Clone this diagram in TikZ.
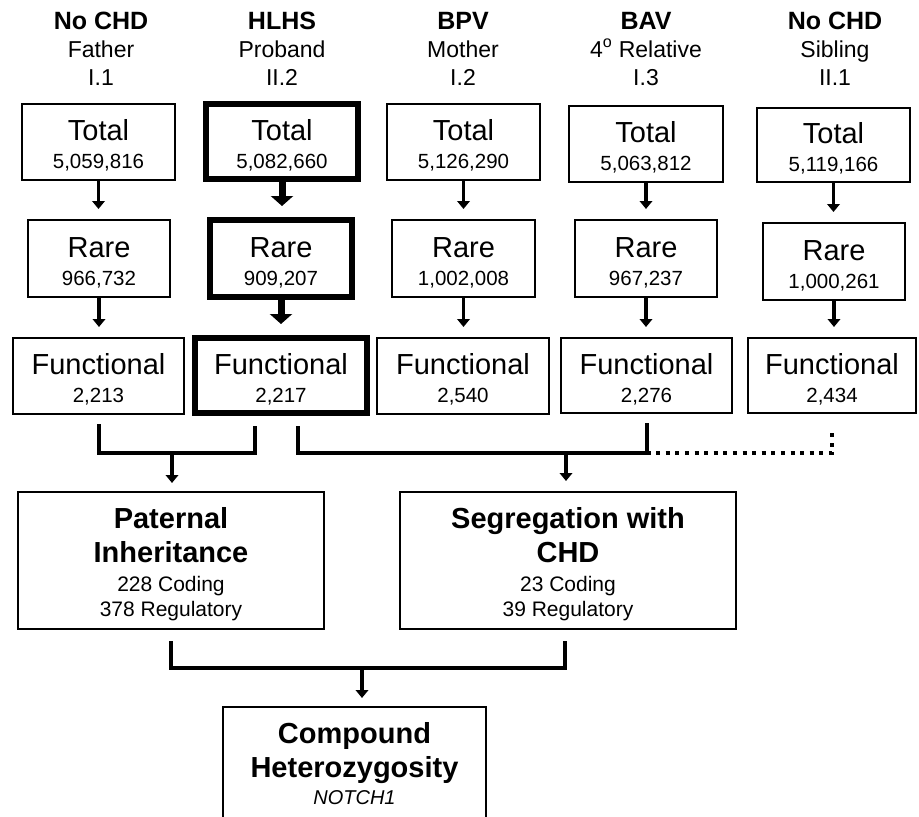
\documentclass[tikz,border=0pt]{standalone}
\usepackage{fontspec}
\setmainfont{Liberation Sans}
\usetikzlibrary{arrows.meta,calc}

\newcommand\mkbox[7]{\node[#2, minimum width={#4pt-#3pt-#7pt}, minimum height={#6pt-#5pt-#7pt}] (#1) at ({(#3+#4)/2},{(#5+#6)/2}) {};}
\newcommand\twotext[3]{%
  \node[bigt, anchor=base] (#1a) at ([yshift=1.5pt]#1.center) {#2};
  \node[smallt, anchor=base] (#1b) at ([yshift=-26.5pt]#1.center) {#3};}
\newcommand\headtext[5]{%
  \node[hdb, anchor=base] (#1a) at (#2,29) {#3};
  \node[hdn, anchor=base] (#1b) at (#2,57) {#4};
  \node[hdn, anchor=base] (#1c) at (#2,85) {#5};}

\tikzset{
  box/.style={draw, line width=1.8pt, inner sep=0pt, rectangle},
  tbox/.style={draw, line width=6pt, inner sep=0pt, rectangle},
  bigt/.style={font=\fontsize{29}{34}\selectfont, inner sep=0pt},
  smallt/.style={font=\fontsize{20.5}{24}\selectfont, inner sep=0pt},
  hdb/.style={font=\fontsize{25}{28}\selectfont\bfseries, inner sep=0pt},
  hdn/.style={font=\fontsize{23}{28}\selectfont, inner sep=0pt},
  boldt/.style={font=\fontsize{29}{34}\selectfont\bfseries, inner sep=0pt},
  numt/.style={font=\fontsize{21}{24}\selectfont, inner sep=0pt},
  itt/.style={font=\fontsize{20}{24}\selectfont\itshape, inner sep=0pt},
  arr/.style={line width=3.8pt, -{Triangle[width=12.5pt,length=8pt]}, shorten >=10pt},
  tarr/.style={line width=7pt, -{Triangle[width=22pt,length=10pt]}, shorten >=11pt},
  link/.style={line width=4pt},
  dlink/.style={line width=4pt, dash pattern=on 4pt off 5.6pt},
}

\begin{document}
\begin{tikzpicture}[x=1pt,y=-1pt]
\path[use as bounding box, clip] (0,0) rectangle (919,817);

% headers
\headtext{h1}{101}{No CHD}{Father}{I.1}
\headtext{h2}{282}{HLHS}{Proband}{II.2}
\headtext{h3}{463}{BPV}{Mother}{I.2}
\headtext{h4}{646}{BAV}{4\textsuperscript{o} Relative}{I.3}
\headtext{h5}{835}{No CHD}{Sibling}{II.1}

% Total row
\mkbox{t1}{box}{21}{176}{103}{181}{1.8}
\mkbox{t2}{tbox}{203}{361}{101}{182}{6}
\mkbox{t3}{box}{386}{541}{103}{181}{1.8}
\mkbox{t4}{box}{568}{724}{105}{183}{1.8}
\mkbox{t5}{box}{756}{911}{107}{183}{1.8}
\twotext{t1}{Total}{5,059,816}
\twotext{t2}{Total}{5,082,660}
\twotext{t3}{Total}{5,126,290}
\twotext{t4}{Total}{5,063,812}
\twotext{t5}{Total}{5,119,166}

% Rare row
\mkbox{r1}{box}{27}{171}{219}{298}{1.8}
\mkbox{r2}{tbox}{207}{355}{217}{300}{6}
\mkbox{r3}{box}{391}{536}{219}{298}{1.8}
\mkbox{r4}{box}{574}{718}{219}{298}{1.8}
\mkbox{r5}{box}{762}{906}{222}{301}{1.8}
\twotext{r1}{Rare}{966,732}
\twotext{r2}{Rare}{909,207}
\twotext{r3}{Rare}{1,002,008}
\twotext{r4}{Rare}{967,237}
\twotext{r5}{Rare}{1,000,261}

% Functional row
\mkbox{f1}{box}{12}{185}{337}{415}{1.8}
\mkbox{f2}{tbox}{192}{370}{335}{416}{6}
\mkbox{f3}{box}{376}{550}{337}{415}{1.8}
\mkbox{f4}{box}{560}{733}{337}{414}{1.8}
\mkbox{f5}{box}{747}{917}{337}{414}{1.8}
\twotext{f1}{Functional}{2,213}
\twotext{f2}{Functional}{2,217}
\twotext{f3}{Functional}{2,540}
\twotext{f4}{Functional}{2,276}
\twotext{f5}{Functional}{2,434}

% vertical arrows
\foreach \i in {1,3,4,5}{
  \draw[arr] (t\i.south) -- (t\i.south |- r\i.north);
  \draw[arr] (r\i.south) -- (r\i.south |- f\i.north);
}
\draw[tarr] (t2.south) -- (t2.south |- r2.north);
\draw[tarr] (r2.south) -- (r2.south |- f2.north);

% lower boxes
\mkbox{pat}{box}{17}{325}{491}{630}{1.8}
\mkbox{seg}{box}{399}{737}{491}{630}{1.8}
\mkbox{cmp}{box}{222}{487}{706}{880}{1.8}

\node[boldt, anchor=base] (pat1) at ([yshift=-37pt]pat.north) {Paternal};
\node[boldt, anchor=base] (pat2) at ([yshift=-71pt]pat.north) {Inheritance};
\node[numt, anchor=base] (pat3) at ([yshift=-100pt]pat.north) {228 Coding};
\node[numt, anchor=base] (pat4) at ([yshift=-125pt]pat.north) {378 Regulatory};

\node[boldt, anchor=base] (seg1) at ([yshift=-37pt]seg.north) {Segregation with};
\node[boldt, anchor=base] (seg2) at ([yshift=-71pt]seg.north) {CHD};
\node[numt, anchor=base] (seg3) at ([yshift=-100pt]seg.north) {23 Coding};
\node[numt, anchor=base] (seg4) at ([yshift=-125pt]seg.north) {39 Regulatory};

\node[boldt, anchor=base] (cmp1) at ([yshift=-37pt]cmp.north) {Compound};
\node[boldt, anchor=base] (cmp2) at ([yshift=-71pt]cmp.north) {Heterozygosity};
\node[itt, anchor=base] (cmp3) at ([yshift=-98pt]cmp.north) {NOTCH1};

% brackets
\coordinate (jL) at (172,453);
\draw[link] ([yshift=-9pt]f1.south) |- (jL) -| ([xshift=-26pt,yshift=-10pt]f2.south);
\draw[arr, shorten >=8pt] (jL) -- (jL |- pat.north);

\coordinate (jR) at (566,453);
\draw[link] ([xshift=17pt,yshift=-10pt]f2.south) |- (jR) -| ([yshift=-9pt]f4.south);
\coordinate (jD) at (f4.south |- jR);
\draw[dlink] (jD) -| ([yshift=-17pt]f5.south);
\draw[arr] (jR) -- (jR |- seg.north);

\coordinate (jB) at (362,668);
\draw[link] ([yshift=-11pt]pat.south) |- (jB) -| ([xshift=-3pt,yshift=-11pt]seg.south);
\draw[arr, shorten >=8pt] (jB) -- (jB |- cmp.north);
\end{tikzpicture}
\end{document}
